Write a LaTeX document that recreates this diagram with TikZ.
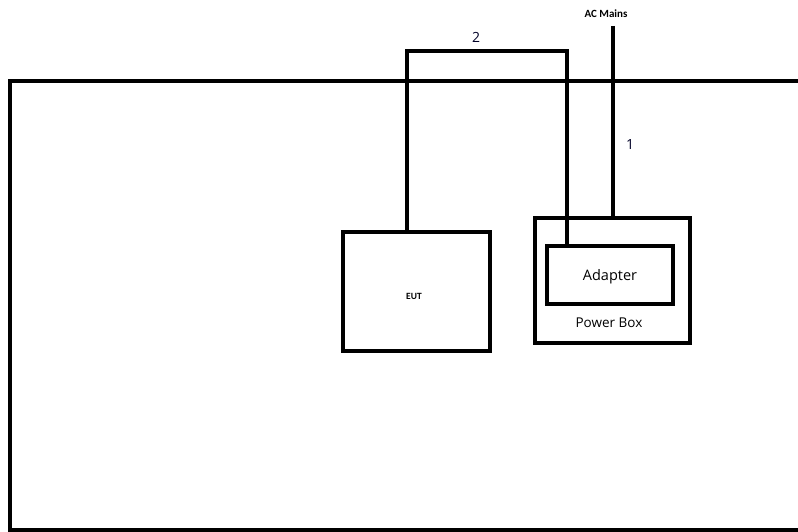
\documentclass[tikz,border=0pt]{standalone}
\usepackage{fontspec}
\setmainfont{Open Sans}
\newfontfamily\calfont{Carlito}
\begin{document}
\begin{tikzpicture}[x=1pt,y=-1pt,
  lbl/.style={text=black!85!blue,inner sep=0pt}]
\useasboundingbox (0,0) rectangle (798,532);
% frame
\draw[line width=4pt] (800,81) -- (10,81) -- (10,530) -- (800,530);
% boxes
\node[draw,line width=4pt,minimum width=147pt,minimum height=119pt,inner sep=0pt] (eut) at (416.5,291.5) {};
\node[font=\calfont\bfseries\fontsize{9.5}{11}\selectfont] (eutl) at (414,296) {EUT};
\node[draw,line width=3.3pt,minimum width=155pt,minimum height=125pt,inner sep=0pt] (pbox) at (612.5,280.5) {};
\node[draw,line width=4pt,minimum width=126pt,minimum height=58pt,inner sep=0pt,fill=white] (adp) at (610,275) {};
\node[font=\fontsize{14.5}{16}\selectfont] at (610,277) {Adapter};
\node[font=\fontsize{13.5}{15}\selectfont] (pbl) at (609,323) {Power Box};
% cable 2
\coordinate (c2a) at (407,51);
\coordinate (c2b) at (567,51);
\draw[line width=4pt] (eut.north -| c2a) -- (c2a) -- (c2b) -- (adp.north -| c2b);
\node[lbl,font=\fontsize{14}{16}\selectfont] (l2) at (476,37) {2};
% AC mains
\node[font=\calfont\bfseries\fontsize{11}{12}\selectfont,inner sep=0pt] (acm) at (606,14) {AC Mains};
\coordinate (acm1) at (613,26);
\draw[line width=4pt] (acm1) -- (pbox.north -| acm1);
\node[lbl,font=\fontsize{14}{16}\selectfont] (l1) at (630,145) {1};
\end{tikzpicture}
\end{document}
